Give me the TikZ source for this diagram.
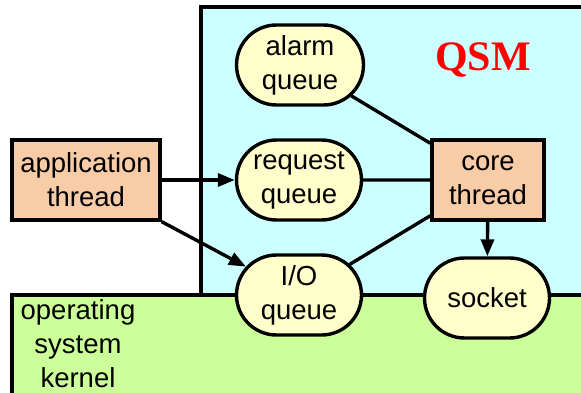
\documentclass[tikz,border=0pt]{standalone}
\usepackage{fontspec}
\setmainfont{Liberation Sans}
\newfontfamily\qsmfont{Liberation Serif}
\usetikzlibrary{shapes.misc,arrows.meta}
\definecolor{cyanbg}{HTML}{CCFFFF}
\definecolor{greenbg}{HTML}{CCFF99}
\definecolor{salmon}{HTML}{F9CCA8}
\definecolor{queuefill}{HTML}{FFFFCC}
\begin{document}
\begin{tikzpicture}[x=1pt,y=-1pt,
  every node/.style={font=\fontsize{27.5}{34}\selectfont, align=center, inner sep=0pt},
  thick3/.style={line width=3.4pt},
  thread/.style={thick3, draw=black, fill=salmon, rectangle, minimum width=148pt, minimum height=80pt},
  queue/.style={thick3, draw=black, fill=queuefill, rounded rectangle, minimum width=125pt, minimum height=80pt},
  conn/.style={line width=3.4pt},
  arr/.style={line width=3.4pt, -{Triangle[length=17pt,width=13pt]}}
]
\useasboundingbox (0,0) rectangle (581,393);
\begin{scope}
\clip (0,0) rectangle (581,393);
\draw[thick3, fill=cyanbg] (201,7) rectangle (620,420);
\draw[thick3, fill=greenbg] (12,295) rectangle (620,420);
\end{scope}
\node (os) at (78,344) {operating\\system\\kernel};
\node[font=\qsmfont\fontsize{42}{42}\selectfont\bfseries, text=red] (qsm) at (483,60) {QSM};

\node[thread] (app) at (86,180) {application\\thread};
\node[thread, minimum width=112pt] (core) at (488,180) {core\\thread};
\node[queue, minimum width=127pt] (alarm) at (300,65) {alarm\\queue};
\node[queue] (req) at (299,180) {request\\queue};
\node[queue] (io) at (299,295) {I/O\\queue};
\node[queue] (sock) at (487,298) {socket};

\draw[conn] (alarm) -- ([yshift=-5pt]core.north west);
\draw[conn] (req) -- (core);
\draw[conn] (io) -- ([yshift=6pt]core.south west);
\draw[arr] (core) -- (sock);
\draw[arr] (app) -- (req);
\draw[arr] (app.south east) -- (io);
\end{tikzpicture}
\end{document}
